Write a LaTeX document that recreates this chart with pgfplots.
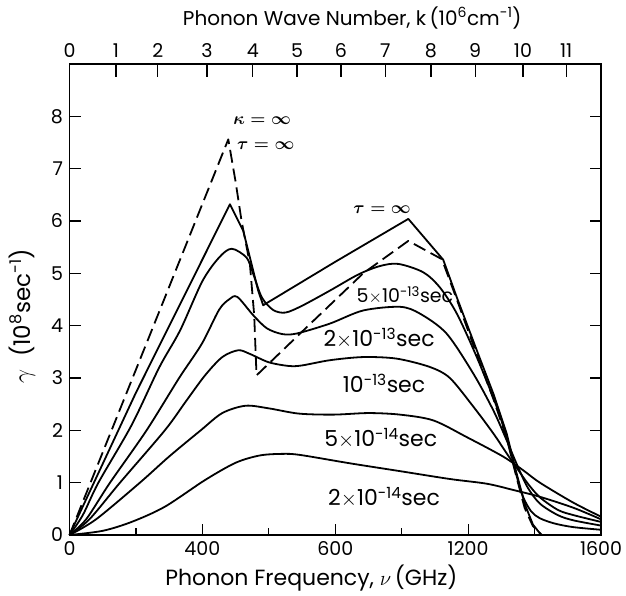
\documentclass[border=0pt]{standalone}
\usepackage{fontspec}
\setmainfont{Poppins}
\usepackage{pgfplots}
\pgfplotsset{compat=1.18}

\begin{document}
\fontsize{19}{23}\selectfont
\begin{tikzpicture}
  % main axis: frequency (bottom), gamma (left)
  \begin{axis}[
      scale only axis, width=531.5pt, height=471pt,
      xmin=0, xmax=1600, ymin=0, ymax=9,
      clip=false,
      axis line style={line width=1.6pt},
      tick align=inside,
      major tick length=11pt, minor tick length=7pt,
      every tick/.style={black, line width=1.2pt},
      xtick={0,400,800,1200,1600},
      xticklabels={0,400,600,1200,1600},
      minor xtick={200,600,1000,1400},
      xtick pos=bottom,
      ytick={0,1,2,3,4,5,6,7,8},
      yticklabels={0,1,2,3,4,5,6,7,8},
      ytick pos=both, yticklabel pos=left,
      xlabel={Phonon Frequency, $\nu$\,(GHz)},
      ylabel={$\gamma$\ \ (10\textsuperscript{8}sec\textsuperscript{-1})},
      xlabel style={at={(axis description cs:0.455,-0.0913)}, anchor=center,
        font=\fontsize{22}{26}\selectfont},
      ylabel style={at={(axis description cs:-0.0894,0.465)}, anchor=center,
        font=\fontsize{23}{27}\selectfont},
    ]

    % kappa = infinity, tau = infinity (dashed)
    \addplot[black, line width=1.8pt, dash pattern=on 13pt off 6pt, line join=round]
      coordinates {(0,0) (250,3.95) (478,7.56) (500,6.75) (518,6.0) (543,5.18)
        (556,4.2) (563,3.05) (714,3.97) (884,5.0) (1020,5.62) (1121,5.27)
        (1166,4.5) (1226,3.45) (1276,2.6) (1316,1.85) (1345,1.12) (1370,0.52)
        (1395,0.17) (1422,0)};

    % tau = infinity
    \addplot[black, line width=1.8pt, line join=round]
      coordinates {(0,0) (200,2.72) (483,6.32) (523,5.81) (548,5.18) (568,4.67)
        (583,4.39) (800,5.22) (1020,6.04) (1125,5.26) (1166,4.54) (1226,3.53)
        (1276,2.70) (1316,1.94) (1345,1.2) (1370,0.6) (1395,0.2) (1420,0)};

    % tau = 5e-13 s
    \addplot[black, line width=1.8pt, smooth]
      coordinates {(0,0) (40,0.38) (87,1.0) (187,2.1) (270,3.2) (333,3.91)
        (400,4.85) (450,5.3) (488,5.47) (533,5.3) (553,4.99) (579,4.54)
        (613,4.3) (650,4.25) (700,4.38) (784,4.67) (870,4.98) (935,5.14)
        (990,5.18) (1065,5.02) (1115,4.73) (1166,4.23) (1226,3.40) (1286,2.45)
        (1321,1.75) (1345,1.15) (1366,0.72) (1390,0.45) (1416,0.32) (1460,0.22)
        (1517,0.15) (1600,0.1)};

    % tau = 2e-13 s
    \addplot[black, line width=1.8pt, smooth]
      coordinates {(0,0) (50,0.3) (122,1.0) (232,2.0) (330,3.0) (398,3.65)
        (450,4.3) (480,4.5) (505,4.55) (553,4.2) (594,3.95) (640,3.84)
        (684,3.85) (784,4.04) (884,4.29) (995,4.36) (1055,4.23) (1135,3.85)
        (1216,3.08) (1276,2.38) (1316,1.81) (1350,1.3) (1380,0.9) (1416,0.6)
        (1470,0.38) (1517,0.28) (1600,0.18)};

    % tau = 1e-13 s
    \addplot[black, line width=1.8pt, smooth]
      coordinates {(0,0) (60,0.3) (152,1.0) (287,2.0) (350,2.55) (408,3.05)
        (460,3.4) (508,3.53) (543,3.46) (600,3.3) (660,3.23) (700,3.24)
        (784,3.34) (884,3.40) (985,3.37) (1085,3.21) (1145,3.0) (1216,2.45)
        (1276,1.94) (1316,1.56) (1350,1.25) (1380,0.98) (1416,0.72)
        (1470,0.48) (1517,0.38) (1600,0.25)};

    % tau = 5e-14 s
    \addplot[black, line width=1.8pt, smooth]
      coordinates {(0,0) (80,0.3) (212,1.0) (300,1.5) (395,2.0) (460,2.33)
        (530,2.47) (600,2.42) (690,2.32) (794,2.3) (900,2.33) (995,2.3)
        (1095,2.19) (1196,1.87) (1305,1.5) (1365,1.24) (1416,1.0)
        (1516,0.62) (1600,0.35)};

    % tau = 2e-14 s
    \addplot[black, line width=1.8pt, smooth]
      coordinates {(0,0) (100,0.08) (187,0.25) (287,0.54) (408,1.05) (500,1.38)
        (573,1.52) (640,1.55) (694,1.53) (844,1.37) (995,1.22) (1145,1.07)
        (1256,0.98) (1336,0.86) (1416,0.73) (1517,0.52) (1600,0.3)};

    % curve labels
    \begin{scope}[every node/.style={font=\fontsize{18}{22}\selectfont\boldmath}]
      \node at (axis cs:580,7.91) {$\kappa=\infty$};
      \node at (axis cs:591,7.44) {$\tau=\infty$};
      \node at (axis cs:941,6.22) {$\tau=\infty$};
    \end{scope}
    \node[font=\fontsize{19}{23}\selectfont] at (axis cs:1010,4.58)
      {5$\times$10\textsuperscript{-13}sec};
    \begin{scope}[every node/.style={font=\fontsize{22}{26}\selectfont}]
      \node at (axis cs:932,3.76) {2$\times$10\textsuperscript{-13}sec};
      \node at (axis cs:947,2.90) {10\textsuperscript{-13}sec};
      \node at (axis cs:937,1.85) {5$\times$10\textsuperscript{-14}sec};
      \node at (axis cs:947,0.72) {2$\times$10\textsuperscript{-14}sec};
    \end{scope}
  \end{axis}

  % second axis: phonon wave number on top
  \begin{axis}[
      scale only axis, width=531.5pt, height=471pt,
      xmin=0, xmax=1600, ymin=0, ymax=9,
      axis x line*=top, axis y line=none,
      axis line style={line width=1.6pt},
      tick align=inside,
      major tick length=13pt,
      every tick/.style={black, line width=1.2pt},
      xtick={0,140,266,414,552,685,817,951,1088,1221,1365,1495},
      xticklabels={0,1,2,3,4,5,6,7,8,9,10,11},
      xlabel={Phonon Wave Number, k\,(10\textsuperscript{6}cm\textsuperscript{-1})},
      xlabel style={at={(axis description cs:0.532,1.0977)}, anchor=center,
        font=\fontsize{20}{24}\selectfont},
    ]
  \end{axis}

  \pgfresetboundingbox
  \path[use as bounding box] (-69.5pt,-61pt) rectangle (556.5pt,535pt);
\end{tikzpicture}
\end{document}
